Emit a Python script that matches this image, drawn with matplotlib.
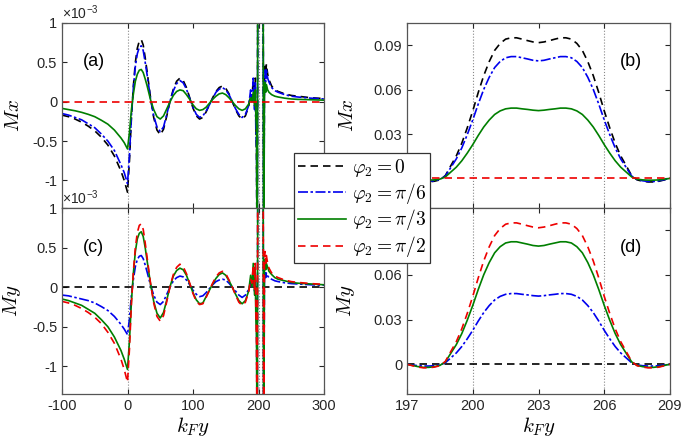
import numpy as np
import matplotlib.pyplot as plt
from matplotlib.lines import Line2D

plt.rcParams['font.family'] = ['Liberation Sans', 'DejaVu Sans']
plt.rcParams['mathtext.fontset'] = 'cm'
plt.rcParams['axes.unicode_minus'] = False

# ---- left panels: k_F y from -100 to 300, values in units of 1e-3 ----
lx = [-100, -90, -80, -70, -60, -50, -40, -30, -20, -10, -5, 0,
      3, 6, 9, 12, 15, 18, 21, 24, 27, 30, 35, 40, 45, 50, 55, 60, 65, 70,
      75, 80, 85, 90, 95, 100, 105, 110, 115, 120, 125, 130, 135, 140, 145,
      150, 155, 160, 165, 170, 175, 180, 185,
      188, 190, 192, 194, 195, 196, 197, 198, 199, 200, 206, 207, 208, 209,
      210, 211, 212, 214, 216,
      220, 225, 230, 240, 250, 260, 280, 300]

# Mx
mx_l_0 = [-0.17, -0.19, -0.22, -0.26, -0.31, -0.37, -0.45, -0.55, -0.69, -0.88, -1.0, -1.15,
          -0.75, -0.2, 0.2, 0.5, 0.68, 0.77, 0.79, 0.72, 0.56, 0.38, 0.06, -0.2, -0.36, -0.42, -0.35, -0.18, 0.01, 0.16,
          0.26, 0.30, 0.27, 0.18, 0.05, -0.08, -0.18, -0.22, -0.2, -0.13, -0.04, 0.05, 0.13, 0.18, 0.2,
          0.17, 0.1, 0.0, -0.1, -0.18, -0.22, -0.18, -0.06,
          0.1, 0.05, 0.28, -0.05, 0.3, -0.3, -0.7, -2.5, 2.0, 45, 45, 2.0, -2.5, 0.3,
          0.45, 0.3, 0.48, 0.35, 0.28,
          0.2, 0.15, 0.13, 0.1, 0.08, 0.07, 0.05, 0.04]
mx_l_30 = [-0.15, -0.17, -0.2, -0.23, -0.28, -0.33, -0.41, -0.5, -0.62, -0.8, -0.9, -1.04,
           -0.68, -0.18, 0.18, 0.45, 0.61, 0.69, 0.71, 0.65, 0.5, 0.34, 0.05, -0.18, -0.32, -0.38, -0.32, -0.16, 0.01, 0.14,
           0.23, 0.27, 0.24, 0.16, 0.04, -0.07, -0.16, -0.2, -0.18, -0.12, -0.04, 0.04, 0.12, 0.16, 0.18,
           0.15, 0.09, 0.0, -0.09, -0.16, -0.2, -0.16, -0.05,
           0.15, 0.0, 0.3, -0.1, 0.25, -0.4, -0.6, -2.5, 2.0, 40, 40, 2.0, -2.5, 0.2,
           0.4, 0.25, 0.42, 0.3, 0.25,
           0.18, 0.14, 0.12, 0.09, 0.07, 0.06, 0.045, 0.035]
mx_l_60 = [-0.085, -0.1, -0.115, -0.135, -0.16, -0.19, -0.235, -0.285, -0.36, -0.46, -0.52, -0.6,
           -0.39, -0.1, 0.1, 0.26, 0.35, 0.4, 0.41, 0.37, 0.29, 0.2, 0.03, -0.1, -0.19, -0.22, -0.18, -0.09, 0.0, 0.08,
           0.13, 0.15, 0.14, 0.09, 0.03, -0.04, -0.09, -0.11, -0.1, -0.07, -0.02, 0.03, 0.07, 0.1, 0.11,
           0.09, 0.05, 0.0, -0.05, -0.09, -0.11, -0.09, -0.03,
           0.05, 0.0, 0.12, -0.05, 0.15, -0.2, -0.35, -2.5, 2.0, 25, 25, 2.0, -2.5, 0.1,
           0.25, 0.12, 0.22, 0.15, 0.12,
           0.09, 0.07, 0.06, 0.045, 0.035, 0.03, 0.025, 0.02]
mx_l_90 = [0.0] * len(lx)

# My
my_l_0 = [0.0] * len(lx)
my_l_30 = [-0.1, -0.11, -0.13, -0.15, -0.17, -0.2, -0.245, -0.295, -0.37, -0.47, -0.53, -0.6,
           -0.4, -0.1, 0.1, 0.26, 0.35, 0.39, 0.4, 0.36, 0.28, 0.19, 0.03, -0.1, -0.19, -0.22, -0.18, -0.09, 0.0, 0.08,
           0.12, 0.14, 0.13, 0.09, 0.03, -0.04, -0.09, -0.12, -0.11, -0.07, -0.02, 0.03, 0.07, 0.09, 0.1,
           0.09, 0.05, 0.0, -0.05, -0.1, -0.13, -0.1, -0.03,
           0.05, 0.0, 0.12, -0.05, 0.15, -0.2, -0.35, -2.5, 2.0, 25, 25, 2.0, -2.5, 0.1,
           0.2, 0.12, 0.18, 0.14, 0.12,
           0.1, 0.08, 0.07, 0.055, 0.045, 0.04, 0.03, 0.025]
my_l_60 = [-0.15, -0.17, -0.2, -0.23, -0.28, -0.33, -0.41, -0.5, -0.63, -0.8, -0.91, -1.04,
           -0.68, -0.18, 0.18, 0.45, 0.61, 0.68, 0.7, 0.64, 0.5, 0.33, 0.05, -0.18, -0.33, -0.39, -0.32, -0.16, 0.01, 0.14,
           0.21, 0.24, 0.22, 0.15, 0.04, -0.07, -0.16, -0.21, -0.2, -0.12, -0.04, 0.04, 0.11, 0.16, 0.18,
           0.15, 0.08, 0.0, -0.09, -0.17, -0.21, -0.17, -0.05,
           0.15, 0.0, 0.3, -0.1, 0.25, -0.4, -0.6, -2.5, 2.0, 40, 40, 2.0, -2.5, 0.2,
           0.35, 0.22, 0.3, 0.25, 0.2,
           0.16, 0.12, 0.1, 0.08, 0.06, 0.05, 0.04, 0.03]
my_l_90 = [-0.18, -0.2, -0.23, -0.27, -0.32, -0.38, -0.46, -0.57, -0.71, -0.91, -1.04, -1.2,
           -0.78, -0.2, 0.2, 0.5, 0.69, 0.78, 0.8, 0.73, 0.56, 0.37, 0.06, -0.2, -0.37, -0.43, -0.36, -0.18, 0.01, 0.16,
           0.25, 0.29, 0.26, 0.17, 0.05, -0.08, -0.18, -0.22, -0.21, -0.13, -0.04, 0.05, 0.13, 0.18, 0.2,
           0.17, 0.09, 0.0, -0.1, -0.19, -0.23, -0.19, -0.06,
           0.1, 0.05, 0.28, -0.05, 0.3, -0.3, -0.7, -2.5, 2.0, 45, 45, 2.0, -2.5, 0.3,
           0.45, 0.3, 0.4, 0.3, 0.24,
           0.18, 0.14, 0.12, 0.09, 0.07, 0.06, 0.045, 0.035]

# ---- right panels: k_F y from 197 to 209 (barrier region) ----
rx = [197, 197.25, 197.5, 197.75, 198, 198.25, 198.5, 198.75, 199, 199.25, 199.5, 199.75,
      200, 200.25, 200.5, 200.75, 201, 201.25, 201.5, 201.75, 202, 202.25, 202.5, 202.75,
      203, 203.25, 203.5, 203.75, 204, 204.25, 204.5, 204.75, 205, 205.25, 205.5, 205.75,
      206, 206.25, 206.5, 206.75, 207, 207.25, 207.5, 207.75, 208, 208.25, 208.5, 208.75, 209]

mx_r_0 = [0.0, -0.0010, -0.0019, -0.0024, -0.0024, -0.0019, -0.0010, 0.0019, 0.0086, 0.0152, 0.0238, 0.0342,
          0.0456, 0.0580, 0.0694, 0.0789, 0.0865, 0.0912, 0.0941, 0.0950, 0.0950, 0.0941, 0.0931, 0.0922,
          0.0917, 0.0922, 0.0931, 0.0941, 0.0950, 0.0950, 0.0941, 0.0912, 0.0865, 0.0789, 0.0694, 0.0580,
          0.0456, 0.0342, 0.0238, 0.0152, 0.0086, 0.0019, -0.0010, -0.0019, -0.0024, -0.0024, -0.0019, -0.0010, 0.0]
mx_r_30 = [0.0, -0.0008, -0.0016, -0.0021, -0.0021, -0.0016, -0.0008, 0.0016, 0.0074, 0.0132, 0.0206, 0.0296,
           0.0395, 0.0502, 0.0601, 0.0683, 0.0749, 0.0790, 0.0815, 0.0823, 0.0823, 0.0815, 0.0807, 0.0798,
           0.0794, 0.0798, 0.0807, 0.0815, 0.0823, 0.0823, 0.0815, 0.0790, 0.0749, 0.0683, 0.0601, 0.0502,
           0.0395, 0.0296, 0.0206, 0.0132, 0.0074, 0.0016, -0.0008, -0.0016, -0.0021, -0.0021, -0.0016, -0.0008, 0.0]
mx_r_60 = [0.0, -0.0005, -0.0010, -0.0012, -0.0012, -0.0010, -0.0005, 0.0010, 0.0043, 0.0076, 0.0119, 0.0171,
           0.0228, 0.0290, 0.0347, 0.0394, 0.0432, 0.0456, 0.0470, 0.0475, 0.0475, 0.0470, 0.0466, 0.0461,
           0.0458, 0.0461, 0.0466, 0.0470, 0.0475, 0.0475, 0.0470, 0.0456, 0.0432, 0.0394, 0.0347, 0.0290,
           0.0228, 0.0171, 0.0119, 0.0076, 0.0043, 0.0010, -0.0005, -0.0010, -0.0012, -0.0012, -0.0010, -0.0005, 0.0]
mx_r_90 = [0.0] * len(rx)

my_r_0 = [0.0] * len(rx)
my_r_30 = [0.0, -0.0005, -0.0010, -0.0012, -0.0012, -0.0010, -0.0005, 0.0010, 0.0043, 0.0076, 0.0119, 0.0171,
           0.0228, 0.0290, 0.0347, 0.0394, 0.0432, 0.0456, 0.0470, 0.0475, 0.0475, 0.0470, 0.0466, 0.0461,
           0.0458, 0.0461, 0.0466, 0.0470, 0.0475, 0.0475, 0.0470, 0.0456, 0.0432, 0.0394, 0.0347, 0.0290,
           0.0228, 0.0171, 0.0119, 0.0076, 0.0043, 0.0010, -0.0005, -0.0010, -0.0012, -0.0012, -0.0010, -0.0005, 0.0]
my_r_60 = [0.0, -0.0008, -0.0016, -0.0021, -0.0021, -0.0016, -0.0008, 0.0016, 0.0074, 0.0132, 0.0206, 0.0296,
           0.0395, 0.0502, 0.0601, 0.0683, 0.0749, 0.0790, 0.0815, 0.0823, 0.0823, 0.0815, 0.0807, 0.0798,
           0.0794, 0.0798, 0.0807, 0.0815, 0.0823, 0.0823, 0.0815, 0.0790, 0.0749, 0.0683, 0.0601, 0.0502,
           0.0395, 0.0296, 0.0206, 0.0132, 0.0074, 0.0016, -0.0008, -0.0016, -0.0021, -0.0021, -0.0016, -0.0008, 0.0]
my_r_90 = [0.0, -0.0010, -0.0019, -0.0024, -0.0024, -0.0019, -0.0010, 0.0019, 0.0086, 0.0152, 0.0238, 0.0342,
           0.0456, 0.0580, 0.0694, 0.0789, 0.0865, 0.0912, 0.0941, 0.0950, 0.0950, 0.0941, 0.0931, 0.0922,
           0.0917, 0.0922, 0.0931, 0.0941, 0.0950, 0.0950, 0.0941, 0.0912, 0.0865, 0.0789, 0.0694, 0.0580,
           0.0456, 0.0342, 0.0238, 0.0152, 0.0086, 0.0019, -0.0010, -0.0019, -0.0024, -0.0024, -0.0019, -0.0010, 0.0]

labels = [r'$\varphi_2=0$', r'$\varphi_2=\pi/6$', r'$\varphi_2=\pi/3$', r'$\varphi_2=\pi/2$']
colors = ['black', '#0000ee', '#007f00', '#ee0000']
styles = [(0, (4.5, 3)), (0, (6, 1.5, 1.5, 1.5)), '-', (0, (4.5, 3))]

fig = plt.figure(figsize=(6.85, 4.44), dpi=100)
W, H = 685.0, 444.0
ax_a = fig.add_axes([62 / W, 236 / H, 262 / W, 185 / H])
ax_c = fig.add_axes([62 / W, 50 / H, 262 / W, 186 / H])
ax_b = fig.add_axes([407 / W, 236 / H, 263 / W, 185 / H])
ax_d = fig.add_axes([407 / W, 50 / H, 263 / W, 186 / H])

panels = [
    (ax_a, lx, [mx_l_0, mx_l_30, mx_l_60, mx_l_90], '(a)', r'$Mx$'),
    (ax_c, lx, [my_l_0, my_l_30, my_l_60, my_l_90], '(c)', r'$My$'),
    (ax_b, rx, [mx_r_0, mx_r_30, mx_r_60, mx_r_90], '(b)', r'$Mx$'),
    (ax_d, rx, [my_r_0, my_r_30, my_r_60, my_r_90], '(d)', r'$My$'),
]

for ax, x, series, tag, ylab in panels:
    # dotted markers for the interface positions
    if x is lx:
        for xv in [0, 200, 206]:
            ax.axvline(xv, color='#888888', ls=':', lw=0.8, zorder=1)
    else:
        for xv in [200, 206]:
            ax.axvline(xv, color='#888888', ls=':', lw=0.8, zorder=1)
    for y, c, s in zip(series, colors, styles):
        ax.plot(x, y, color=c, ls=s, lw=1.2, zorder=2)
    ax.set_ylabel(ylab, fontsize=15)
    ax.text(0.12 if x is lx else 0.85, 0.79, tag, transform=ax.transAxes,
            fontsize=13, ha='center', va='center')
    ax.tick_params(direction='in', top=True, right=True, length=3.5,
                   labelsize=10.5, colors='#262626', width=0.8)
    for sp in ax.spines.values():
        sp.set_color('#555555')
        sp.set_linewidth(0.9)

for ax in [ax_a, ax_c]:
    ax.set_xlim(-100, 300)
    ax.set_ylim(-1.35, 1)
    ax.set_xticks([-100, 0, 100, 200, 300])
    ax.set_yticks([-1, -0.5, 0, 0.5, 1])
    ax.set_yticklabels(['-1', '-0.5', '0', '0.5', '1'])
    ax.yaxis.set_label_coords(-0.15, 0.5)
    ax.text(0.0, 1.005, '×10$^{\\mathregular{-3}}$', transform=ax.transAxes,
            fontsize=10, ha='left', va='bottom', color='#262626')

for ax in [ax_b, ax_d]:
    ax.set_xlim(197, 209)
    ax.set_ylim(-0.02, 0.105)
    ax.set_xticks([197, 200, 203, 206, 209])
    ax.set_yticks([0, 0.03, 0.06, 0.09])
    ax.set_yticklabels(['0', '0.03', '0.06', '0.09'])
    ax.yaxis.set_label_coords(-0.19, 0.5)

ax_a.set_xticklabels([])
ax_b.set_xticklabels([])
ax_c.set_xlabel(r'$k_F y$', fontsize=15, labelpad=1.5)
ax_d.set_xlabel(r'$k_F y$', fontsize=15, labelpad=1.5)

handles = [Line2D([], [], color=c, ls=s, lw=1.2) for c, s in zip(colors, styles)]
leg = fig.legend(handles, labels, loc='center', bbox_to_anchor=(362 / W, 1 - 208 / H),
                 fontsize=14, frameon=True, fancybox=False, framealpha=1,
                 edgecolor='#333333', handlelength=2.5, handletextpad=0.3,
                 labelspacing=0.1, borderpad=0.2, borderaxespad=0)
leg.get_frame().set_linewidth(0.9)

plt.savefig('out.png', dpi=100)
